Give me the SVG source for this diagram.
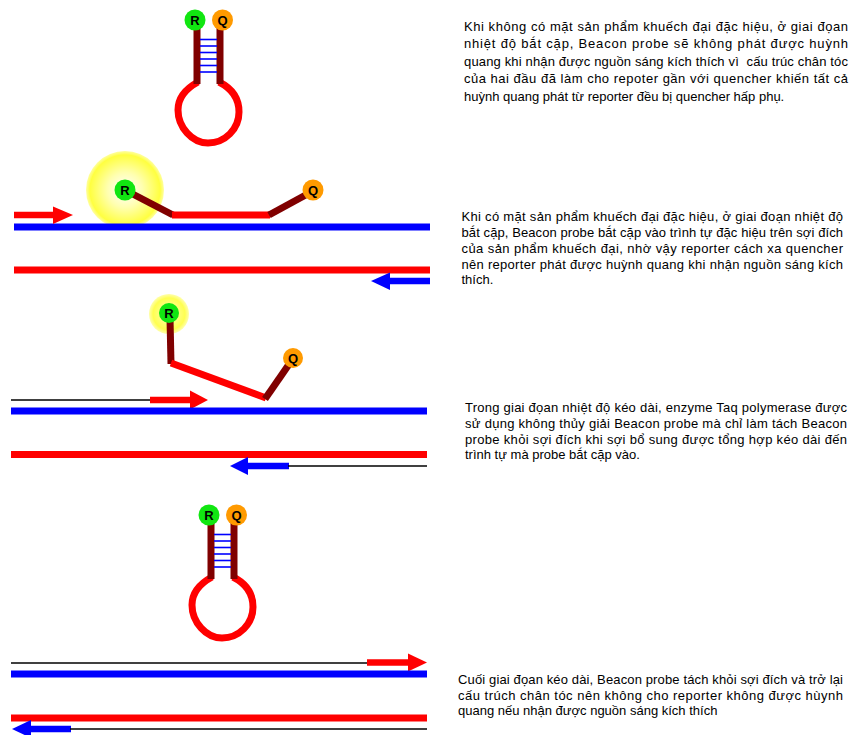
<svg xmlns="http://www.w3.org/2000/svg" xmlns:xlink="http://www.w3.org/1999/xlink" width="851" height="735" viewBox="0 0 851 735">
  <style>
    .strand-blue { stroke: #0000ff; stroke-width: 7; fill: none; }
    .strand-red { stroke: #ff0000; stroke-width: 7; fill: none; }
    .arm { stroke: #800000; stroke-width: 7; fill: none; stroke-linecap: butt; }
    .probe { stroke: #ff0000; stroke-width: 7; fill: none; stroke-linejoin: round; }
    .rung { stroke: #0000ff; stroke-width: 1.6; }
    .thin { stroke: #000000; stroke-width: 1.3; }
    .shaft-red { stroke: #ff0000; stroke-width: 6.5; }
    .shaft-blue { stroke: #0000ff; stroke-width: 6.5; }
    .head-red { fill: #ff0000; }
    .head-blue { fill: #0000ff; }
    .rep { fill: #11e611; }
    .qch { fill: #ff9a00; }
    .lbl { font-family: "Liberation Sans", Arial, sans-serif; font-size: 13px; font-weight: bold; fill: #000; text-anchor: middle; }
    .note { font-family: "Liberation Sans", Arial, sans-serif; font-size: 13px; fill: #000; }
  </style>
  <defs>
    <radialGradient id="glow" cx="0.5" cy="0.5" r="0.5">
      <stop offset="0" stop-color="#ffffff"/>
      <stop offset="0.45" stop-color="#ffffb0"/>
      <stop offset="0.9" stop-color="#ffff40"/>
      <stop offset="1" stop-color="#ffff60" stop-opacity="0.6"/>
    </radialGradient>
    <radialGradient id="glow-small" cx="0.5" cy="0.5" r="0.5">
      <stop offset="0" stop-color="#ffffc0"/>
      <stop offset="0.8" stop-color="#ffff50"/>
      <stop offset="1" stop-color="#ffff70" stop-opacity="0.6"/>
    </radialGradient>
    <!-- closed molecular beacon: loop, stem arms, base-pair rungs, R and Q ends -->
    <g id="hairpin">
      <path class="probe" d="M198,82 C187,88 178,96 178,110 C178,127 192,143 208,143 C225,143 239,129 239,112 C239,97 231,88 219,82"/>
      <line class="arm" x1="197" y1="26" x2="197" y2="84"/>
      <line class="arm" x1="220" y1="26" x2="220" y2="84"/>
      <line class="rung" x1="200" y1="39.5" x2="217" y2="39.5"/>
      <line class="rung" x1="200" y1="46" x2="217" y2="46"/>
      <line class="rung" x1="200" y1="52.5" x2="217" y2="52.5"/>
      <line class="rung" x1="200" y1="59" x2="217" y2="59"/>
      <line class="rung" x1="200" y1="65.5" x2="217" y2="65.5"/>
      <line class="rung" x1="200" y1="72" x2="217" y2="72"/>
      <circle class="rep" cx="195" cy="20" r="10.5"/>
      <circle class="qch" cx="222.5" cy="20" r="10.5"/>
      <text class="lbl" x="195" y="24.5">R</text>
      <text class="lbl" x="222.5" y="24.5">Q</text>
    </g>
  </defs>

  <!-- stage 1: hairpin probe free in solution -->
  <g id="probe-closed-1">
    <use xlink:href="#hairpin"/>
  </g>

  <!-- stage 2: probe annealed to target -->
  <g id="probe-annealed">
    <circle cx="125" cy="190" r="39" fill="url(#glow)"/>
    <line class="arm" x1="125" y1="190" x2="173" y2="215"/>
    <line class="probe" x1="172" y1="215" x2="270" y2="215"/>
    <line class="arm" x1="269" y1="215" x2="313" y2="191"/>
    <circle class="rep" cx="125" cy="190" r="10.5"/>
    <circle class="qch" cx="313" cy="190" r="10.5"/>
    <text class="lbl" x="125" y="194.5">R</text>
    <text class="lbl" x="313" y="194.5">Q</text>
  </g>

  <!-- stage 3: probe displaced during extension -->
  <g id="probe-displaced">
    <circle cx="169" cy="314" r="20" fill="url(#glow-small)"/>
    <line class="arm" x1="170" y1="318" x2="171" y2="364"/>
    <polyline class="probe" points="171,363 266,398"/>
    <line class="arm" x1="265" y1="399" x2="292" y2="360"/>
    <circle class="rep" cx="169" cy="313" r="10"/>
    <circle class="qch" cx="293" cy="358" r="10"/>
    <text class="lbl" x="169" y="317.5">R</text>
    <text class="lbl" x="293" y="362.5">Q</text>
  </g>

  <!-- stage 4: hairpin reformed -->
  <g id="probe-closed-2">
    <use xlink:href="#hairpin" transform="translate(14,495)"/>
  </g>

  <!-- template strands, primers and extension products -->
  <g id="connectors">
    <!-- stage 2 -->
    <line class="strand-blue" x1="14" y1="227" x2="430" y2="227"/>
    <line class="strand-red" x1="14" y1="270" x2="430" y2="270"/>
    <line class="shaft-red" x1="14" y1="215" x2="55" y2="215"/>
    <polygon class="head-red" points="53,206.5 73,215 53,224"/>
    <line class="shaft-blue" x1="388" y1="281" x2="430" y2="281"/>
    <polygon class="head-blue" points="390,272.5 371,281 390,290"/>

    <!-- stage 3 -->
    <line class="thin" x1="11" y1="400" x2="152" y2="400"/>
    <line class="shaft-red" x1="150" y1="400" x2="192" y2="400"/>
    <polygon class="head-red" points="190,390.5 208,400 190,409.5"/>
    <line class="strand-blue" x1="11" y1="411" x2="427" y2="411"/>
    <line class="strand-red" x1="11" y1="454.5" x2="427" y2="454.5"/>
    <line class="shaft-blue" x1="246" y1="466" x2="289" y2="466"/>
    <polygon class="head-blue" points="248,457 230,466 248,475"/>
    <line class="thin" x1="288" y1="466" x2="427" y2="466"/>

    <!-- stage 4 -->
    <line class="thin" x1="11" y1="663" x2="369" y2="663"/>
    <line class="shaft-red" x1="367" y1="662.5" x2="410" y2="662.5"/>
    <polygon class="head-red" points="408,653.5 427,662.5 408,671.5"/>
    <line class="strand-blue" x1="11" y1="674" x2="427" y2="674"/>
    <line class="strand-red" x1="11" y1="718" x2="427" y2="718"/>
    <line class="shaft-blue" x1="29" y1="729" x2="71" y2="729"/>
    <polygon class="head-blue" points="31,720 12,729 31,738"/>
    <line class="thin" x1="70" y1="729" x2="427" y2="729"/>
  </g>

  <!-- captions -->
  <g id="caption-1" class="note">
    <text x="464" y="30.5" textLength="384" lengthAdjust="spacing">Khi không có mặt sản phẩm khuếch đại đặc hiệu, ở giai đọan</text>
    <text x="464" y="48" textLength="384" lengthAdjust="spacing">nhiệt độ bắt cặp, Beacon probe sẽ không phát được huỳnh</text>
    <text x="464" y="65.5" textLength="384" lengthAdjust="spacing" xml:space="preserve">quang khi nhận được nguồn sáng kích thích vì  cấu trúc chân tóc</text>
    <text x="464" y="83" textLength="384" lengthAdjust="spacing">của hai đầu đã làm cho repoter gần với quencher khiến tất cả</text>
    <text x="464" y="100.5">huỳnh quang phát từ reporter đều bị quencher hấp phụ.</text>
  </g>
  <g id="caption-2" class="note">
    <text x="461.5" y="220.5" textLength="381.5" lengthAdjust="spacing">Khi có mặt sản phẩm khuếch đại đặc hiệu, ở giai đoạn nhiệt độ</text>
    <text x="461.5" y="236.5" textLength="381.5" lengthAdjust="spacing">bắt cặp, Beacon probe bắt cặp vào trình tự đặc hiệu trên sợi đích</text>
    <text x="461.5" y="252.5" textLength="381.5" lengthAdjust="spacing">của sản phẩm khuếch đại, nhờ vậy reporter cách xa quencher</text>
    <text x="461.5" y="268.5" textLength="381.5" lengthAdjust="spacing">nên reporter phát được huỳnh quang khi nhận nguồn sáng kích</text>
    <text x="461.5" y="284">thích.</text>
  </g>
  <g id="caption-3" class="note">
    <text x="465" y="412" textLength="382" lengthAdjust="spacing">Trong giai đọan nhiệt độ kéo dài, enzyme Taq polymerase được</text>
    <text x="465" y="428" textLength="382" lengthAdjust="spacing">sử dụng không thủy giải Beacon probe mà chỉ làm tách Beacon</text>
    <text x="465" y="443.5" textLength="382" lengthAdjust="spacing">probe khỏi sợi đích khi sợi bổ sung được tổng hợp kéo dài đến</text>
    <text x="465" y="459">trình tự mà probe bắt cặp vào.</text>
  </g>
  <g id="caption-4" class="note">
    <text x="458" y="684" textLength="385" lengthAdjust="spacing">Cuối giai đọan kéo dài, Beacon probe tách khỏi sợi đích và trở lại</text>
    <text x="458" y="699.5" textLength="385" lengthAdjust="spacing">cấu trúch chân tóc nên không cho reporter không được hùynh</text>
    <text x="458" y="715">quang nếu nhận được nguồn sáng kích thích</text>
  </g>
</svg>
